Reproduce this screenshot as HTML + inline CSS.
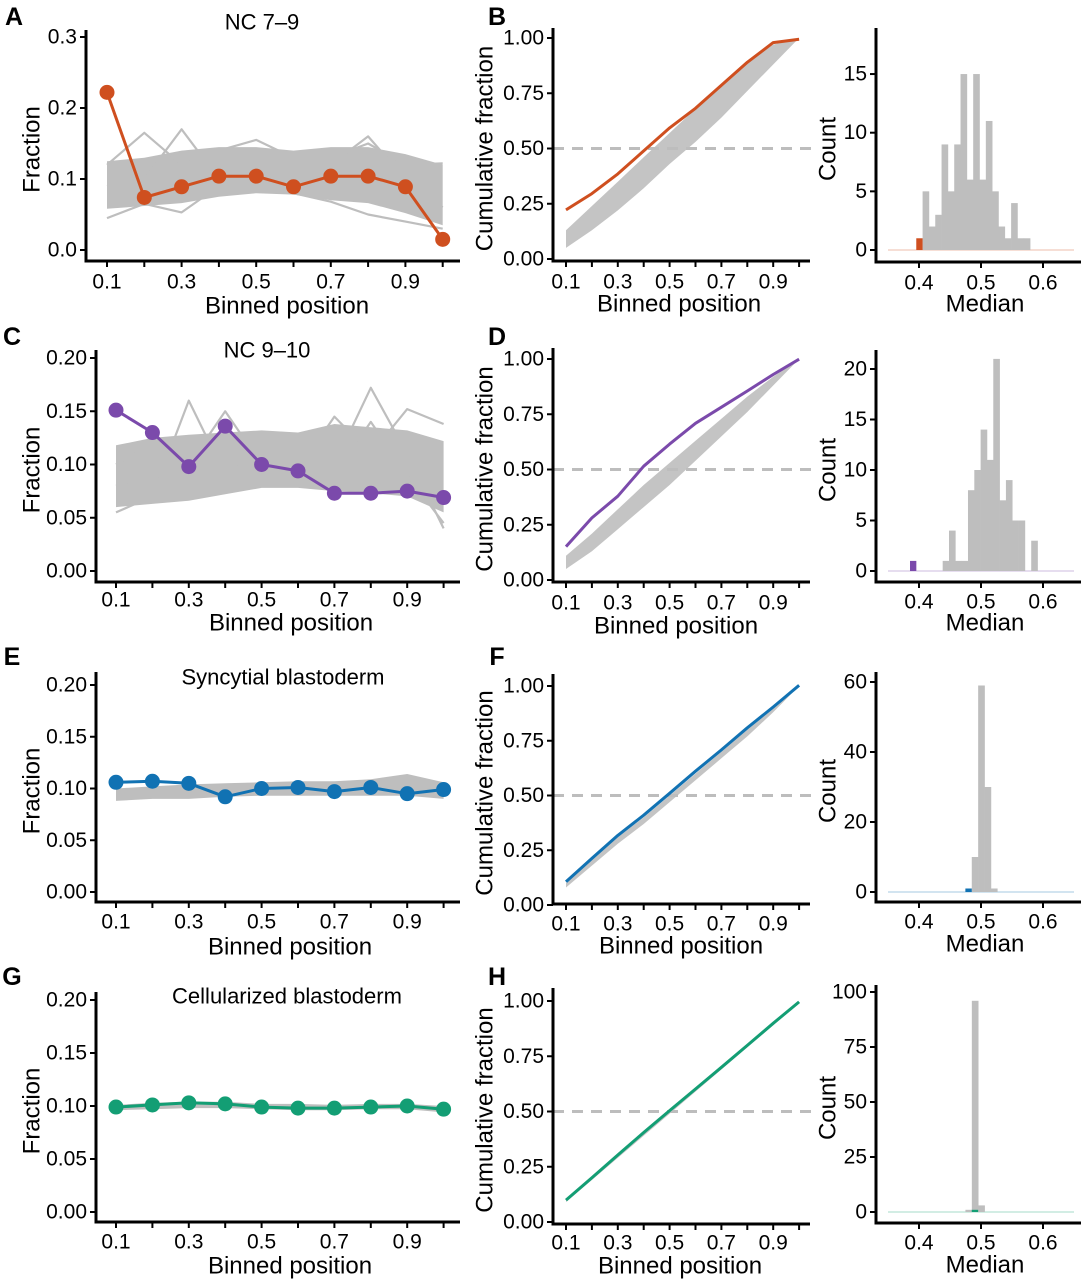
<!DOCTYPE html>
<html><head><meta charset="utf-8"><style>
html,body{margin:0;padding:0;background:#fff;}
svg{display:block;font-family:"Liberation Sans",Arial,sans-serif;}
</style></head><body>
<svg id="fig" width="1081" height="1280" viewBox="0 0 1081 1280" xmlns="http://www.w3.org/2000/svg"></svg>
<script>
// ---------- DATA ----------
const bins = [0.1,0.2,0.3,0.4,0.5,0.6,0.7,0.8,0.9,1.0];
// Panel A (NC 7-9)
const fracA = [0.222,0.074,0.089,0.104,0.104,0.089,0.104,0.104,0.089,0.015];
const bandLoA = [0.058,0.062,0.066,0.075,0.080,0.078,0.070,0.066,0.052,0.035];
const bandHiA = [0.125,0.130,0.140,0.145,0.145,0.140,0.145,0.145,0.135,0.120];
const extraA1 = [0.120,0.165,0.120,0.140,0.155,0.130,0.130,0.150,0.120,0.122];
const extraA2 = [0.045,0.065,0.053,0.090,0.085,0.080,0.068,0.050,0.040,0.030];
const extraA3 = [0.090,0.100,0.170,0.100,0.130,0.110,0.120,0.160,0.100,0.060];
// Panel C (NC 9-10)
const fracC = [0.151,0.130,0.098,0.136,0.100,0.094,0.073,0.073,0.075,0.069];
const bandLoC = [0.060,0.063,0.066,0.072,0.078,0.078,0.075,0.073,0.070,0.055];
const bandHiC = [0.118,0.125,0.128,0.130,0.132,0.130,0.138,0.135,0.132,0.122];
const extraC1 = [0.055,0.070,0.160,0.090,0.120,0.100,0.090,0.140,0.090,0.045];
const extraC2 = [0.100,0.120,0.100,0.150,0.100,0.120,0.100,0.172,0.110,0.040];
const extraC3 = [0.080,0.090,0.085,0.110,0.090,0.095,0.145,0.110,0.152,0.138];
// Panel E (Syncytial blastoderm)
const fracE = [0.106,0.107,0.105,0.092,0.100,0.101,0.097,0.101,0.095,0.099];
const bandLoE = [0.088,0.090,0.090,0.092,0.093,0.093,0.093,0.093,0.093,0.090];
const bandHiE = [0.100,0.102,0.104,0.105,0.106,0.107,0.107,0.109,0.114,0.106];
// Panel G (Cellularized blastoderm)
const fracG = [0.099,0.101,0.103,0.102,0.099,0.098,0.098,0.099,0.100,0.097];
const bandLoG = [0.096,0.097,0.098,0.098,0.097,0.096,0.096,0.097,0.097,0.094];
const bandHiG = [0.101,0.103,0.104,0.104,0.102,0.102,0.101,0.102,0.102,0.100];
// Cumulative null bands
const cumLoB = [0.05,0.13,0.22,0.32,0.43,0.53,0.64,0.76,0.88,1.0];
const cumHiB = [0.13,0.24,0.35,0.46,0.57,0.68,0.79,0.89,0.97,1.0];
const cumLoD = [0.05,0.13,0.23,0.33,0.43,0.54,0.65,0.76,0.88,1.0];
const cumHiD = [0.11,0.21,0.32,0.43,0.53,0.63,0.73,0.83,0.92,1.0];
const cumLoF = [0.08,0.18,0.28,0.37,0.47,0.57,0.67,0.77,0.88,1.0];
const cumHiF = [0.10,0.21,0.31,0.40,0.50,0.60,0.70,0.80,0.90,1.0];
const cumLoH = [0.09,0.19,0.29,0.39,0.49,0.59,0.69,0.79,0.89,1.0];
const cumHiH = [0.10,0.20,0.30,0.40,0.50,0.60,0.70,0.80,0.90,1.0];
// Histograms of medians
const hist1Start = 0.4058, hist1Width = 0.0102;
const hist1Counts = [5,2,3,9,5,9,15,6,15,6,11,5,2,1,4,1,1];
const hist1ObsStart = 0.3956, hist1ObsCount = 1;
const hist2Start = 0.4382, hist2Width = 0.0102;
const hist2Counts = [1,4,1,1,8,10,14,11,21,7,9,5,5,0,3];
const hist2ObsStart = 0.3855, hist2ObsCount = 1;
const hist3Start = 0.4851, hist3Width = 0.0103;
const hist3Counts = [10,59,30,1];
const hist3ObsStart = 0.4748, hist3ObsCount = 1;
const hist4Start = 0.4749, hist4Width = 0.0103;
const hist4Counts = [1,96,3];
const hist4ObsStart = 0.4851, hist4ObsCount = 1;

// ---------- HELPERS ----------
const NS = "http://www.w3.org/2000/svg";
const svg = document.getElementById('fig');
function mk(tag, attrs, parent){
  const e = document.createElementNS(NS, tag);
  for (const k in attrs) e.setAttribute(k, attrs[k]);
  (parent||svg).appendChild(e);
  return e;
}
function txt(s, x, y, size, anchor, parent, weight){
  const t = mk('text', {x:x, y:y, 'font-size':size, 'text-anchor':anchor||'middle', fill:'#000', 'dominant-baseline':'central'}, parent);
  if (weight) t.setAttribute('font-weight', weight);
  t.textContent = s;
  return t;
}
function cumsum(a){ let s=0; return a.map(v=> (s+=v)); }
function poly(xs, ys){ return xs.map((x,i)=>x.toFixed(1)+','+ys[i].toFixed(1)).join(' '); }

function axes(g, P, yticks, yfmt, xtickVals, xlabelVals, xfmt, xpos){
  const ya = mk('line',{x1:P.ax,y1:P.yTop,x2:P.ax,y2:P.xAxisY+1.5,stroke:'#000','stroke-width':3},g);
  
  
  const xa = mk('line',{x1:P.ax-1.5,y1:P.xAxisY,x2:P.xEnd,y2:P.xAxisY,stroke:'#000','stroke-width':3},g);
  
  
  yticks.forEach(v=>{
    const y = P.y(v);
    mk('line',{x1:P.ax-6,y1:y,x2:P.ax,y2:y,stroke:'#000','stroke-width':2},g);
    const t = txt(yfmt(v), P.ax-9, y, 21, 'end', g);
    
    
  });
  xtickVals.forEach(v=>{
    const x = xpos(v);
    mk('line',{x1:x,y1:P.xAxisY,x2:x,y2:P.xAxisY+6,stroke:'#000','stroke-width':2},g);
  });
  xlabelVals.forEach(v=>{
    const t = txt(xfmt(v), xpos(v), P.labY, 21, 'middle', g);
    
    
  });
}
function titles(g, P, xt, yt, ytx){
  const t = txt(xt, P.xTitleX, P.xTitleY, 24, 'middle', g);
  
  
  const cy = (P.yTop + P.xAxisY)/2 + 4;
  const t2 = txt(yt, ytx, cy, 24, 'middle', g);
  t2.setAttribute('transform','rotate(-90 '+ytx+' '+cy+')');
  
  
}

// ---------- LEFT FRACTION PANELS ----------
function fracPanel(name, P, frac, lo, hi, extras, color, yticks, yfmt, title){
  const g = mk('g',{});
  
  
  const xs = v => P.x0 + (v-0.1)*P.xs;
  axes(g, P, yticks, yfmt, bins, [0.1,0.3,0.5,0.7,0.9], v=>v.toFixed(1), xs);
  titles(g, P, 'Binned position', 'Fraction', 32);
  const tt = txt(title, P.titleX, P.titleY, 22, 'middle', g);
  
  
  const bx = bins.map(xs);
  const band = mk('polygon',{points: poly(bx.concat(bx.slice().reverse()), lo.map(P.y).concat(hi.map(P.y).reverse())), fill:'#bebebe'},g);
  
  
  extras.forEach(arr=>{
    const l = mk('polyline',{points: poly(bx, arr.map(P.y)), fill:'none', stroke:'#bebebe','stroke-width':2.2,'stroke-linejoin':'round'},g);
    
    
  });
  const ln = mk('polyline',{points: poly(bx, frac.map(P.y)), fill:'none', stroke:color,'stroke-width':3,'stroke-linejoin':'round'},g);
  
  
  frac.forEach((v,i)=>{
    const c = mk('circle',{cx:bx[i], cy:P.y(v), r:7.5, fill:color},g);
    
    
  });
}
const f2 = v=>v.toFixed(2), f1 = v=>v.toFixed(1);
fracPanel('panel-a', {ax:86,xAxisY:261,yTop:30,xEnd:460,y:v=>250-v*710,x0:107,xs:373,labY:282,xTitleX:287,xTitleY:306,titleX:262,titleY:22},
  fracA, bandLoA, bandHiA, [extraA1,extraA2,extraA3], '#cf4f1f', [0,0.1,0.2,0.3], f1, 'NC 7–9');
fracPanel('panel-c', {ax:96,xAxisY:582,yTop:350,xEnd:460,y:v=>571-v*1065,x0:116,xs:364,labY:600,xTitleX:291,xTitleY:623,titleX:267,titleY:350},
  fracC, bandLoC, bandHiC, [extraC1,extraC2,extraC3], '#7b4aab', [0,0.05,0.1,0.15,0.2], f2, 'NC 9–10');
fracPanel('panel-e', {ax:96,xAxisY:902,yTop:672,xEnd:460,y:v=>892-v*1035,x0:116,xs:364,labY:922,xTitleX:290,xTitleY:947,titleX:283,titleY:677},
  fracE, bandLoE, bandHiE, [], '#1172b3', [0,0.05,0.1,0.15,0.2], f2, 'Syncytial blastoderm');
fracPanel('panel-g', {ax:96,xAxisY:1222,yTop:992,xEnd:460,y:v=>1212-v*1060,x0:116,xs:364,labY:1242,xTitleX:290,xTitleY:1266,titleX:287,titleY:996},
  fracG, bandLoG, bandHiG, [], '#139e74', [0,0.05,0.1,0.15,0.2], f2, 'Cellularized blastoderm');

// ---------- CUMULATIVE PANELS ----------
function cumPanel(name, P, frac, lo, hi, color){
  const g = mk('g',{});
  
  
  const xs = v => 566 + (v-0.1)*259;
  const bx = bins.map(xs);
  const band = mk('polygon',{points: poly(bx.concat(bx.slice().reverse()), lo.map(P.y).concat(hi.map(P.y).reverse())), fill:'#c4c4c4'},g);
  
  
  const d = mk('line',{x1:553,y1:P.y(0.5),x2:812,y2:P.y(0.5),stroke:'#bdbdbd','stroke-width':3,'stroke-dasharray':'11 8'},g);
  
  
  const ln = mk('polyline',{points: poly(bx, cumsum(frac).map(P.y)), fill:'none', stroke:color,'stroke-width':3,'stroke-linejoin':'round'},g);
  
  
  P.ax = 553; P.xEnd = 810;
  axes(g, P, [0,0.25,0.5,0.75,1], f2, bins, [0.1,0.3,0.5,0.7,0.9], f1, xs);
  titles(g, P, 'Binned position', 'Cumulative fraction', 485);
}
cumPanel('panel-b', {xAxisY:261,yTop:28,y:v=>259-v*221,labY:282,xTitleX:679,xTitleY:304}, fracA, cumLoB, cumHiB, '#cf4f1f');
cumPanel('panel-d', {xAxisY:582,yTop:348,y:v=>580-v*221,labY:603,xTitleX:676,xTitleY:626}, fracC, cumLoD, cumHiD, '#7b4aab');
cumPanel('panel-f', {xAxisY:904,yTop:674,y:v=>905-v*219,labY:924,xTitleX:681,xTitleY:946}, fracE, cumLoF, cumHiF, '#1172b3');
cumPanel('panel-h', {xAxisY:1224,yTop:988,y:v=>1222-v*221,labY:1243,xTitleX:680,xTitleY:1266}, fracG, cumLoH, cumHiH, '#139e74');

// ---------- HISTOGRAMS ----------
function histPanel(name, P, start, width, counts, obsStart, obsCount, color, yticks){
  const g = mk('g',{});
  
  
  const hx = v => 919 + (v-0.4)*620;
  const base = P.y(0);
  const bl = mk('line',{x1:hx(0.35),y1:base,x2:hx(0.65),y2:base,stroke:color,'stroke-opacity':0.25,'stroke-width':1.5},g);
  
  
  counts.forEach((c,i)=>{
    if (c<=0) return;
    const x0 = hx(start + i*width), x1 = hx(start + (i+1)*width);
    const r = mk('rect',{x:x0,y:P.y(c),width:x1-x0+0.3,height:base-P.y(c),fill:'#bebebe'},g);
    
    
  });
  const ox0 = hx(obsStart), ox1 = hx(obsStart+width);
  const o = mk('rect',{x:ox0,y:P.y(obsCount),width:ox1-ox0,height:base-P.y(obsCount),fill:color},g);
  
  
  P.ax = 876; P.xEnd = 1081;
  axes(g, P, yticks, v=>String(v), [0.4,0.5,0.6], [0.4,0.5,0.6], f1, hx);
  titles(g, P, 'Median', 'Count', 828);
}
histPanel('panel-b-histogram', {xAxisY:262,yTop:28,y:c=>250-c*11.73,labY:283,xTitleX:985,xTitleY:304},
  hist1Start, hist1Width, hist1Counts, hist1ObsStart, hist1ObsCount, '#cf4f1f', [0,5,10,15]);
histPanel('panel-d-histogram', {xAxisY:582,yTop:350,y:c=>571-c*10.1,labY:602,xTitleX:985,xTitleY:623},
  hist2Start, hist2Width, hist2Counts, hist2ObsStart, hist2ObsCount, '#7b4aab', [0,5,10,15,20]);
histPanel('panel-f-histogram', {xAxisY:902,yTop:672,y:c=>892-c*3.5,labY:922,xTitleX:985,xTitleY:944},
  hist3Start, hist3Width, hist3Counts, hist3ObsStart, hist3ObsCount, '#1172b3', [0,20,40,60]);
histPanel('panel-h-histogram', {xAxisY:1223,yTop:985,y:c=>1212-c*2.2,labY:1243,xTitleX:985,xTitleY:1265},
  hist4Start, hist4Width, hist4Counts, hist4ObsStart, hist4ObsCount, '#139e74', [0,25,50,75,100]);

// ---------- PANEL LETTERS ----------
const letters = [['A',14,17],['B',497,17],['C',12,337],['D',497,337],['E',12,657],['F',497,657],['G',12,977],['H',497,977]];
letters.forEach(l=>{
  const t = txt(l[0], l[1], l[2], 25, 'middle', svg, 'bold');
  
  
});
</script>
</body></html>
